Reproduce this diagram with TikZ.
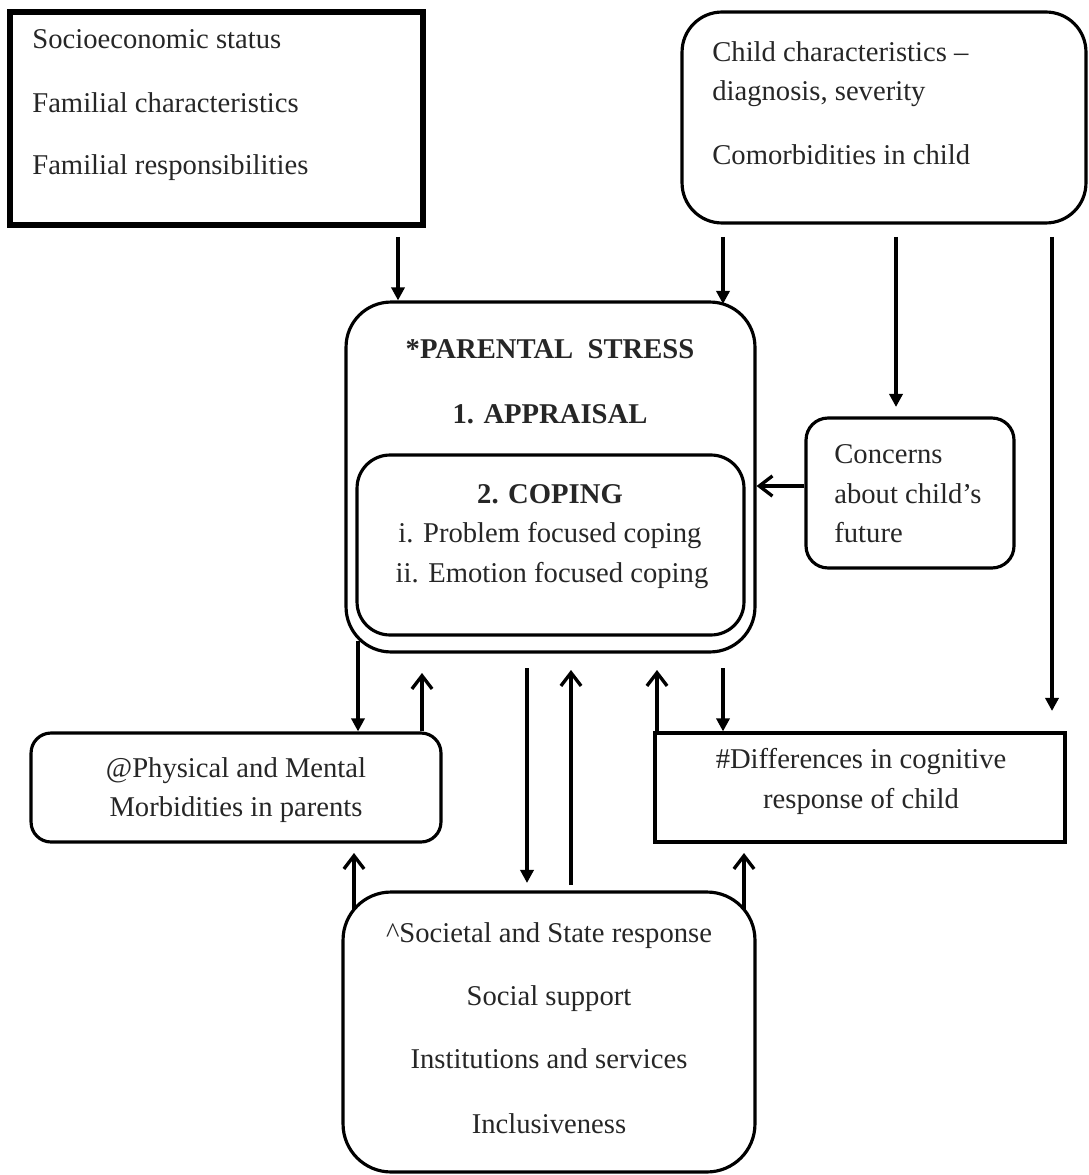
\documentclass[tikz,border=0pt]{standalone}
\usepackage{fontspec}
\setmainfont{Liberation Serif}
\usetikzlibrary{arrows.meta}
\begin{document}
\begin{tikzpicture}[x=0.02cm,y=-0.02cm,
  txt/.style={font=\fontsize{16.3pt}{19pt}\selectfont, text=black!85, inner sep=0pt},
  btxt/.style={txt, font=\fontsize{16.3pt}{19pt}\selectfont\bfseries},
  bx/.style={draw, line width=1.8pt, inner sep=0pt, rectangle},
  dn/.style={line width=1.9pt, -{Triangle[length=7.5pt,width=7.5pt]}},
  up/.style={line width=1.9pt, -{Straight Barb[length=7.5pt,width=11.5pt]}}]
\useasboundingbox (0,0) rectangle (1088,1175);

% boxes
\node[bx, line width=3pt, minimum width=8.26cm, minimum height=4.26cm] (ses) at (216.5,118.5) {};
\node[bx, rounded corners=0.8cm, minimum width=8.08cm, minimum height=4.22cm] (chc) at (884,117.5) {};
\node[bx, rounded corners=0.9cm, minimum width=8.18cm, minimum height=7cm] (ps) at (550.5,477) {};
\node[bx, rounded corners=0.66cm, minimum width=7.74cm, minimum height=3.6cm] (cop) at (550.5,545) {};
\node[bx, rounded corners=0.44cm, minimum width=4.16cm, minimum height=3cm] (con) at (910,493) {};
\node[bx, rounded corners=0.4cm, minimum width=8.2cm, minimum height=2.18cm] (ph) at (236,787.5) {};
\node[bx, minimum width=8.2cm, minimum height=2.18cm] (df) at (860,787.5) {};
\node[bx, rounded corners=0.96cm, minimum width=8.24cm, minimum height=5.6cm] (soc) at (549,1032) {};

% texts
\node[txt, anchor=base west] (t1) at (32,49) {Socioeconomic status};
\node[txt, anchor=base west] (t2) at (32,113) {Familial characteristics};
\node[txt, anchor=base west] (t3) at (32,175) {Familial responsibilities};

\node[txt, anchor=base west] (t4) at (712,62) {Child characteristics –};
\node[txt, anchor=base west] (t5) at (712,101) {diagnosis, severity};
\node[txt, anchor=base west] (t6) at (712,165) {Comorbidities in child};

\node[btxt, anchor=base] (t7) at (550,358) {*PARENTAL\ \ STRESS};
\node[btxt, anchor=base] (t8) at (550,423) {1. APPRAISAL};
\node[btxt, anchor=base] (t9) at (550,503) {2. COPING};
\node[txt, anchor=base] (t10) at (550,542) {i. Problem focused coping};
\node[txt, anchor=base] (t11) at (552,582) {ii. Emotion focused coping};

\node[txt, anchor=base west] (t12) at (834,463) {Concerns};
\node[txt, anchor=base west] (t13) at (834,503) {about child’s};
\node[txt, anchor=base west] (t14) at (834,542) {future};

\node[txt, anchor=base] (t15) at (236,777) {@Physical and Mental};
\node[txt, anchor=base] (t16) at (236,816) {Morbidities in parents};

\node[txt, anchor=base] (t17) at (861,768) {\#Differences in cognitive};
\node[txt, anchor=base] (t18) at (861,808) {response of child};

\node[txt, anchor=base] (t19) at (549,942) {\textasciicircum Societal and State response};
\node[txt, anchor=base] (t20) at (549,1005) {Social support};
\node[txt, anchor=base] (t21) at (549,1068) {Institutions and services};
\node[txt, anchor=base] (t22) at (549,1133) {Inclusiveness};

% connector end points
\coordinate (a1s) at (398,237);
\coordinate (a2s) at (723,237);
\coordinate (a2e) at (723,304);
\coordinate (a3s) at (896,237);
\coordinate (a3e) at (896,407);
\coordinate (a4s) at (1052,237);
\coordinate (a4e) at (1052,711);
\coordinate (a5) at (0,486);
\coordinate (a6s) at (358,641);
\coordinate (a7e) at (422,673);
\coordinate (a8s) at (527,668);
\coordinate (a8e) at (527,883);
\coordinate (a9s) at (571,885);
\coordinate (a9e) at (571,670);
\coordinate (a10e) at (657,670);
\coordinate (a11s) at (723,668);
\coordinate (a12s) at (354,910);
\coordinate (a12e) at (354,853);
\coordinate (a13s) at (744,910);
\coordinate (a13e) at (744,853);

% connectors
\draw[dn] (a1s) -- (a1s |- ps.north);
\draw[dn] (a2s) -- (a2e);
\draw[dn] (a3s) -- (a3e);
\draw[dn] (a4s) -- (a4e);
\draw[up] (con.west |- a5) -- (ps.east |- a5);
\draw[dn] (a6s) -- (a6s |- ph.north);
\draw[up] (a7e |- ph.north) -- (a7e);
\draw[dn] (a8s) -- (a8e);
\draw[up] (a9s) -- (a9e);
\draw[up] (a10e |- df.north) -- (a10e);
\draw[dn] (a11s) -- (a11s |- df.north);
\draw[up] (a12s) -- (a12e);
\draw[up] (a13s) -- (a13e);
\end{tikzpicture}
\end{document}
